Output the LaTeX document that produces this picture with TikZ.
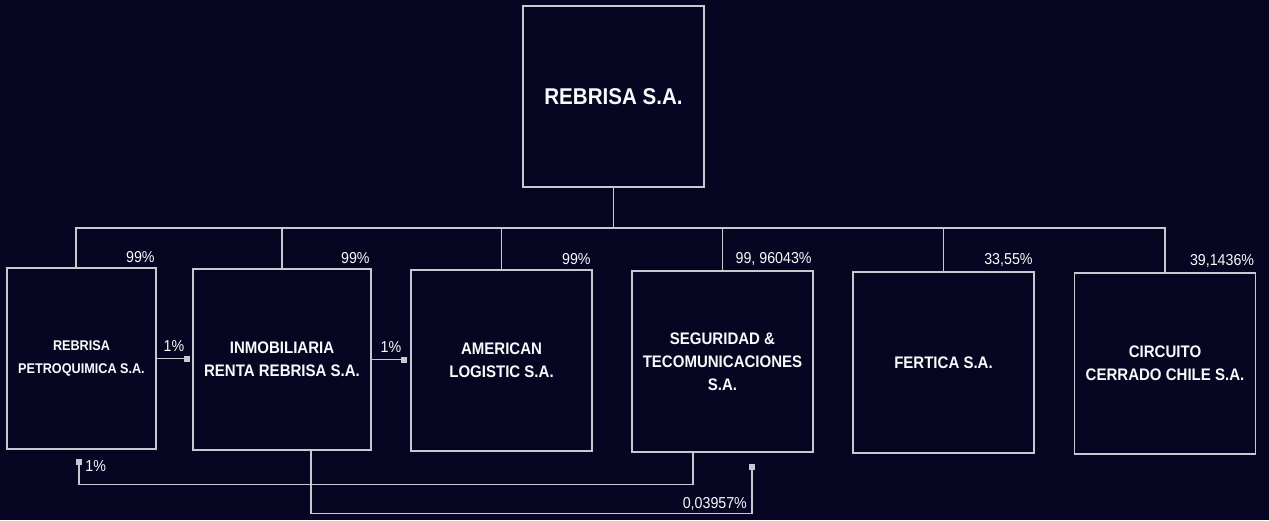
\documentclass[tikz,border=0pt]{standalone}
\usepackage{fontspec}
\setmainfont{Liberation Sans}[FakeStretch=0.9]
\usepackage{tikz}
\usetikzlibrary{positioning, calc}
\definecolor{bgnavy}{RGB}{6,6,34}
\definecolor{linegray}{RGB}{200,200,208}
\definecolor{txtwhite}{RGB}{250,250,252}
\tikzset{
  company/.style={rectangle, draw=linegray, fill=bgnavy,
    minimum width=36.2mm, minimum height=36.2mm, inner sep=0pt,
    align=center, text=txtwhite, font=\fontsize{9.5}{13}\selectfont\bfseries,
    line width=0.8pt},
  holding/.style={company, font=\fontsize{13}{15}\selectfont\bfseries},
  pct/.style={text=txtwhite, font=\fontsize{9}{10}\selectfont, inner sep=1pt},
  tip/.style={rectangle, fill=linegray, minimum size=1.2mm, inner sep=0pt},
  link/.style={draw=linegray, line width=0.8pt}
}
\begin{document}
\begin{tikzpicture}[x=0.2mm, y=-0.2mm]
  \fill[bgnavy] (0,0) rectangle (1269,520);

  \node[holding] (top) at (613.5,96.5) {REBRISA S.A.};

  \node[company, minimum width=29.8mm, font=\fontsize{8}{13}\selectfont\bfseries]
    (c1) at (81.5,358.5) {REBRISA\\PETROQUIMICA S.A.};
  \node[company, minimum width=35.6mm] (c2) at (282,359.5) {INMOBILIARIA\\RENTA REBRISA S.A.};
  \node[company] (c3) at (501.5,360.5) {AMERICAN\\LOGISTIC S.A.};
  \node[company] (c4) at (722.5,361.5) {SEGURIDAD \&\\TECOMUNICACIONES\\S.A.};
  \node[company] (c5) at (943.5,362.5) {FERTICA S.A.};
  \node[company] (c6) at (1165,363.5) {CIRCUITO\\CERRADO CHILE S.A.};

  % direct holdings
  \coordinate (bus) at (613.5,228);
  \draw[link] (top) -- (bus);
  \draw[link] (bus) -| ([xshift=-1.1mm]c1.north);
  \foreach \c in {c2,c3,c4,c5,c6}
    \draw[link] (bus) -| (\c.north);

  \node[pct, above left=1.5pt and 0pt of c1.north east] {99\%};
  \node[pct, above left=1.5pt and 0pt of c2.north east] {99\%};
  \node[pct, above left=1.5pt and 0pt of c3.north east] {99\%};
  \node[pct, above left=1.5pt and 0pt of c4.north east] {99, 96043\%};
  \node[pct, above left=1.5pt and 0pt of c5.north east] {33,55\%};
  \node[pct, above left=1.5pt and 0pt of c6.north east] {39,1436\%};

  % cross holdings
  \node[tip, right=5.4mm of c1] (sq1) {};
  \draw[link] (c1) -- (sq1);
  \node[pct, above left=1pt and -1.5pt of sq1] {1\%};

  \node[tip, right=5.8mm of c2] (sq2) {};
  \draw[link] (c2) -- (sq2);
  \node[pct, above left=1pt and -1.5pt of sq2] {1\%};

  \node[tip] (sq3) at (79,462) {};
  \draw[link] ([xshift=-5.9mm]c4.south) -- ++(0,32) -| (sq3);
  \node[pct, right=0.5pt of sq3, yshift=-2.5pt] {1\%};

  \node[tip] (sq4) at (752,467) {};
  \draw[link] ([xshift=5.8mm]c2.south) -- ++(0,63) -| (sq4)
    node[pct, pos=0.5, anchor=south east, xshift=-1.5pt, yshift=0.5pt] {0,03957\%};
\end{tikzpicture}
\end{document}
